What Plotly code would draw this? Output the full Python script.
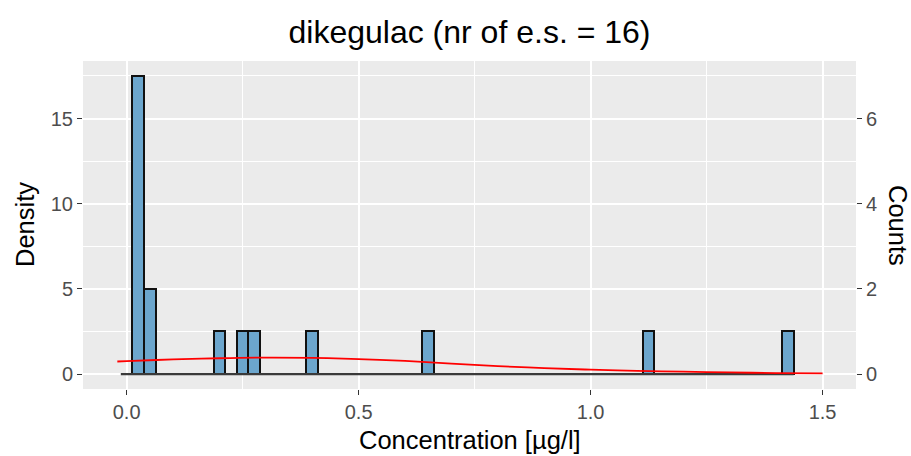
import plotly.graph_objects as go

# ---- data ----
title_text = "dikegulac (nr of e.s. = 16)"
n_samples = 16
bin_width = 0.025
bar_centers = [0.025, 0.05, 0.2, 0.25, 0.275, 0.4, 0.65, 1.125, 1.425]
bar_counts = [7, 2, 1, 1, 1, 1, 1, 1, 1]
first_bin_center = 0.0
last_bin_center = 1.425

dens_x = [-0.02, 0.0, 0.1, 0.2, 0.3, 0.4, 0.5, 0.6, 0.7, 0.8, 0.9, 1.0, 1.1, 1.2, 1.3, 1.4, 1.5]
dens_y = [0.74, 0.76, 0.86, 0.93, 0.97, 0.95, 0.88, 0.77, 0.62, 0.47, 0.35, 0.26, 0.19, 0.14, 0.10, 0.06, 0.04]

x_ticks = [0.0, 0.5, 1.0, 1.5]
x_ticklabels = ["0.0", "0.5", "1.0", "1.5"]
y_ticks = [0, 5, 10, 15]
count_ticks = [0, 2, 4, 6]

# density = count / (n * binwidth)
scale = n_samples * bin_width
bar_density = [c / scale for c in bar_counts]

y_range = [-0.875, 18.375]
x_range = [-0.094, 1.572]

FONT = "Liberation Sans, Arial, sans-serif"

fig = go.Figure()

# baseline of empty bins
fig.add_trace(go.Scatter(
    x=[first_bin_center - bin_width / 2, last_bin_center + bin_width / 2],
    y=[0, 0], mode="lines", line=dict(color="#3a3a3a", width=2.2),
    showlegend=False, hoverinfo="skip"))

fig.add_trace(go.Bar(
    x=bar_centers, y=bar_density, width=bin_width,
    marker=dict(color="#6CA6CD", line=dict(color="#111111", width=2)),
    showlegend=False))

fig.add_trace(go.Scatter(
    x=dens_x, y=dens_y, mode="lines", line=dict(color="red", width=1.8, shape="spline"),
    showlegend=False))

# invisible trace for the secondary axis
fig.add_trace(go.Scatter(x=[None], y=[None], yaxis="y2", showlegend=False))

grid = "white"
fig.update_layout(
    width=911, height=456,
    margin=dict(l=83, r=55, t=61, b=67),
    paper_bgcolor="white", plot_bgcolor="#EBEBEB",
    font=dict(family=FONT, color="#4D4D4D"),
    bargap=0,
    title=dict(text=title_text, x=0.5, xref="paper", xanchor="center",
               y=1 - 32 / 456, yanchor="middle",
               font=dict(size=32, color="black", family=FONT)),
    xaxis=dict(range=x_range, tickvals=x_ticks, ticktext=x_ticklabels,
               showgrid=True, gridcolor=grid, gridwidth=1.6,
               minor=dict(tickvals=[0.25, 0.75, 1.25], showgrid=True, gridcolor=grid, gridwidth=0.8, ticks=""),
               ticks="outside", ticklen=5, tickcolor="#333333", tickwidth=1.2,
               tickfont=dict(size=20, color="#4D4D4D"), zeroline=False, showline=False),
    yaxis=dict(range=y_range, tickvals=y_ticks,
               showgrid=True, gridcolor=grid, gridwidth=1.6,
               minor=dict(tickvals=[2.5, 7.5, 12.5, 17.5], showgrid=True, gridcolor=grid, gridwidth=0.8, ticks=""),
               ticks="outside", ticklen=5, tickcolor="#333333", tickwidth=1.2,
               tickfont=dict(size=20, color="#4D4D4D"), zeroline=False, showline=False),
    yaxis2=dict(overlaying="y", side="right", range=[y_range[0] * scale, y_range[1] * scale],
                tickvals=count_ticks, showgrid=False, zeroline=False,
                ticks="outside", ticklen=5, tickcolor="#333333", tickwidth=1.2,
                tickfont=dict(size=20, color="#4D4D4D")),
    annotations=[
        dict(text="Concentration [µg/l]", xref="paper", yref="paper", x=0.5, y=(389 - 440) / 328,
             xanchor="center", yanchor="middle", showarrow=False,
             font=dict(size=25.5, color="black", family=FONT)),
        dict(text="Density", xref="paper", yref="paper", x=(25 - 83) / 773, y=0.5,
             xanchor="center", yanchor="middle", showarrow=False, textangle=-90,
             font=dict(size=25.5, color="black", family=FONT)),
        dict(text="Counts", xref="paper", yref="paper", x=(898 - 83) / 773, y=0.5,
             xanchor="center", yanchor="middle", showarrow=False, textangle=90,
             font=dict(size=25.5, color="black", family=FONT)),
    ],
)

fig.write_html("out.html")
